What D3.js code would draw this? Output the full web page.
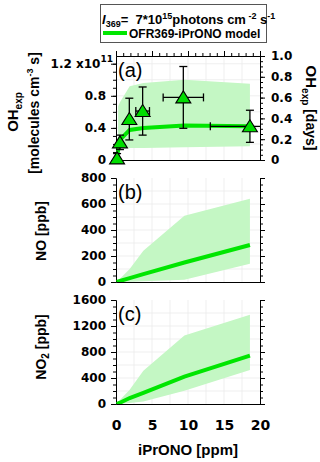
<!DOCTYPE html>
<html>
<head>
<meta charset="utf-8">
<script src="https://cdn.jsdelivr.net/npm/d3@7"></script>
<style>
body { margin: 0; background: #fff; }
svg { display: block; }
.tk text { font-family: "DejaVu Sans"; font-weight: bold; font-size: 12px; fill: #000; }
.tk path, .tk line { stroke: #000; }
.lbl { font-family: "Liberation Sans", Arial; font-weight: bold; fill: #000; }
.grid line { stroke: #ebebeb; stroke-width: 0.8; }
</style>
</head>
<body>
<svg id="chart" width="320" height="462"></svg>
<script>
// iPrONO [ppm] at which the model was run / measurements taken
var modelX = [0.1, 0.55, 1.9, 3.8, 9.5, 18.6];
var ohModel = [0.02, 0.25, 0.375, 0.40, 0.43, 0.42];   // x1e11 molec cm-3 s
var ohBandX = [0.3, 0.55, 1.9, 3.8, 9.5, 18.6];
var ohUpper = [0.67, 0.72, 0.92, 0.96, 1.0, 0.95];
var ohLower = [0.15, 0.15, 0.15, 0.15, 0.16, 0.17];
var noModel = [0, 8, 30, 60, 150, 285];
var noUpper = [0, 25, 100, 240, 510, 640];
var noLower = [0, 0, 2, 5, 17, 140];
var no2Model = [0, 20, 92, 170, 420, 743];
var no2Upper = [0, 60, 220, 512, 1055, 1374];
var no2Lower = [0, 5, 15, 40, 205, 523];

var measX = [0.15, 0.55, 1.85, 3.7, 9.35, 18.6];
var measXErr = [0, 0, 0, 0.95, 2.8, 5.5];
var measOH = [0.02, 0.22, 0.51, 0.61, 0.78, 0.42];
var measOHErr = [0.06, 0.09, 0.26, 0.3, 0.385, 0.2];

var xTicks = [0, 5, 10, 15, 20];
var ohTicks = [0, 0.4, 0.8, 1.2];
var dayTicks = [0, 0.2, 0.4, 0.6, 0.8, 1.0];
var noTicks = [0, 200, 400, 600, 800];
var no2Ticks = [0, 400, 800, 1200, 1600];

var GREEN = "#00e600", BAND = "#c4f7c4";
var left = 116, right = 260, ph = 104;

var svg = d3.select("#chart");
var x = d3.scaleLinear().domain([0, 20]).range([left, right]);

function minorTicks(max, step) {
	return d3.range(0, max + 1e-9, step);
}

function makePanel(id, top, yMax, majors, minorStep, fmt) {
	var y = d3.scaleLinear().domain([0, yMax]).range([top + ph, top]);
	svg.append("clipPath").attr("id", id).append("rect")
		.attr("x", left).attr("y", top).attr("width", right - left).attr("height", ph);

	var grid = svg.append("g").attr("class", "grid");
	grid.selectAll("line.v").data(d3.range(2.5, 20, 2.5)).enter().append("line")
		.attr("x1", x).attr("x2", x).attr("y1", top).attr("y2", top + ph);
	var half = (majors[1] - majors[0]) / 2;
	grid.selectAll("line.h").data(d3.range(half, yMax, half)).enter().append("line")
		.attr("x1", left).attr("x2", right).attr("y1", y).attr("y2", y);

	var ax = svg.append("g").attr("class", "tk");
	ax.append("g").attr("transform", "translate(" + left + ",0)")
		.call(d3.axisLeft(y).tickValues(minorTicks(yMax, minorStep)).tickSize(3).tickSizeOuter(0).tickFormat(""));
	var major = ax.append("g").attr("transform", "translate(" + left + ",0)")
		.call(d3.axisLeft(y).tickValues(majors).tickSize(5).tickSizeOuter(0).tickPadding(5).tickFormat(fmt));
	ax.append("g").attr("transform", "translate(0," + (top + ph) + ")")
		.call(d3.axisBottom(x).tickValues([]).tickSizeOuter(0));

	var body = svg.append("g").attr("clip-path", "url(#" + id + ")");
	return {y: y, body: body, axes: ax, major: major};
}

function rightAxis(ax, scale, majors, minorStep, fmt) {
	ax.append("g").attr("transform", "translate(" + right + ",0)")
		.call(d3.axisRight(scale).tickValues(minorTicks(scale.domain()[1], minorStep)).tickSize(3).tickSizeOuter(0).tickFormat(""));
	ax.append("g").attr("transform", "translate(" + right + ",0)")
		.call(d3.axisRight(scale).tickValues(majors).tickSize(5).tickSizeOuter(0).tickPadding(6).tickFormat(fmt || ""));
}

function drawModel(p, xs, mid, lo, hi) {
	var area = d3.area()
		.x(function(d) { return x(xs[d]); })
		.y0(function(d) { return p.y(lo[d]); })
		.y1(function(d) { return p.y(hi[d]); });
	var line = d3.line()
		.x(function(d) { return x(modelX[d]); })
		.y(function(d) { return p.y(mid[d]); });
	p.body.append("path").attr("d", area(d3.range(xs.length))).attr("fill", BAND);
	p.body.append("path").attr("d", line(d3.range(modelX.length)))
		.attr("fill", "none").attr("stroke", GREEN).attr("stroke-width", 4);
}

function panelLabel(top, t) {
	svg.append("text").attr("x", 118).attr("y", top + 21)
		.attr("font-family", "Liberation Sans, Arial").attr("font-size", 20).text(t);
}

var intFmt = d3.format("d");

// (a) OH exposure
var days = 1.5e6 * 86400 / 1e11;   // 1 day at 1.5e6 OH cm-3, in 1e11 units
var pa = makePanel("ca", 56, days, ohTicks, 0.1, function(d) { return d === 0 ? "0" : d3.format(".1f")(d); });
var yDays = d3.scaleLinear().domain([0, 1]).range([56 + ph, 56]);
pa.major.selectAll(".tick text")
	.filter(function(d) { return d === 1.2; })
	.attr("x", -3)
	.text("1.2 x10")
	.append("tspan").attr("dy", "-0.7em").attr("font-size", 9).text("11");
rightAxis(pa.axes, yDays, dayTicks, 0.05, function(d) { return d === 0 ? "0" : d3.format(".1f")(d); });
pa.axes.append("g").attr("transform", "translate(0,56)")
	.call(d3.axisTop(x).tickValues(d3.range(0, 21, 1)).tickSize(3).tickSizeOuter(0).tickFormat(""));
pa.axes.append("g").attr("transform", "translate(0,56)")
	.call(d3.axisTop(x).tickValues(xTicks).tickSize(5).tickSizeOuter(0).tickFormat(""));
drawModel(pa, ohBandX, ohModel, ohLower, ohUpper);

var errs = svg.append("g").attr("stroke", "#000").attr("stroke-width", 1.3);
measX.forEach(function(mx, i) {
	var cx = x(mx), cy = pa.y(measOH[i]);
	var y0 = pa.y(measOH[i] - measOHErr[i]), y1 = pa.y(measOH[i] + measOHErr[i]);
	errs.append("line").attr("x1", cx).attr("x2", cx).attr("y1", y0).attr("y2", y1);
	errs.append("line").attr("x1", cx - 4).attr("x2", cx + 4).attr("y1", y1).attr("y2", y1);
	if (measOH[i] - measOHErr[i] > 0)
		errs.append("line").attr("x1", cx - 4).attr("x2", cx + 4).attr("y1", y0).attr("y2", y0);
	if (measXErr[i] > 0) {
		var xa = x(Math.max(0, mx - measXErr[i])), xb = x(Math.min(20, mx + measXErr[i]));
		errs.append("line").attr("x1", xa).attr("x2", xb).attr("y1", cy).attr("y2", cy);
		if (mx - measXErr[i] > 0) errs.append("line").attr("x1", xa).attr("x2", xa).attr("y1", cy - 4).attr("y2", cy + 4);
		if (mx + measXErr[i] < 20) errs.append("line").attr("x1", xb).attr("x2", xb).attr("y1", cy - 4).attr("y2", cy + 4);
	}
});
svg.append("g").selectAll("path").data(measX).enter().append("path")
	.attr("d", function(d, i) {
		var cx = x(d), cy = pa.y(measOH[i]);
		return "M" + cx + "," + (cy - 6.5) + "L" + (cx + 7.5) + "," + (cy + 5.5) + "L" + (cx - 7.5) + "," + (cy + 5.5) + "Z";
	})
	.attr("fill", "#00dd00").attr("stroke", "#000").attr("stroke-width", 1.1);
panelLabel(56, "(a)");

// (b) NO
var pb = makePanel("cb", 178, 800, noTicks, 50, intFmt);
rightAxis(pb.axes, pb.y, noTicks, 50);
drawModel(pb, modelX, noModel, noLower, noUpper);
panelLabel(178, "(b)");

// (c) NO2
var pc = makePanel("cc", 300, 1600, no2Ticks, 100, intFmt);
rightAxis(pc.axes, pc.y, no2Ticks, 100);
drawModel(pc, modelX, no2Model, no2Lower, no2Upper);
panelLabel(300, "(c)");
var xa = svg.append("g").attr("class", "tk").attr("transform", "translate(0,404)")
	.call(d3.axisBottom(x).tickValues(xTicks).tickSize(0).tickPadding(16).tickFormat(intFmt));
xa.select(".domain").remove();
xa.selectAll("text").style("font-size", "14px");

// axis titles
svg.append("text").attr("class", "lbl").attr("x", 188).attr("y", 455)
	.attr("text-anchor", "middle").attr("font-size", 15).text("iPrONO [ppm]");

var t1 = svg.append("text").attr("class", "lbl").attr("font-size", 15)
	.attr("text-anchor", "middle").attr("transform", "translate(18,112) rotate(-90)");
t1.append("tspan").text("OH");
t1.append("tspan").attr("font-size", 10).attr("dy", 4).text("exp");

var t2 = svg.append("text").attr("class", "lbl").attr("font-size", 14)
	.attr("text-anchor", "middle").attr("transform", "translate(39,113) rotate(-90)");
t2.append("tspan").text("[molecules cm");
t2.append("tspan").attr("font-size", 9).attr("dy", -6).text("-3");
t2.append("tspan").attr("dy", 6).text(" s]");

var t3 = svg.append("text").attr("class", "lbl").attr("font-size", 14)
	.attr("text-anchor", "middle").attr("transform", "translate(306,108) rotate(90)");
t3.append("tspan").attr("font-size", 15).text("OH");
t3.append("tspan").attr("font-size", 10).attr("dy", 4).text("exp");
t3.append("tspan").attr("dy", -4).text(" [days]");

svg.append("text").attr("class", "lbl").attr("font-size", 14)
	.attr("text-anchor", "middle").attr("transform", "translate(46,231) rotate(-90)")
	.text("NO [ppb]");
var t4 = svg.append("text").attr("class", "lbl").attr("font-size", 14)
	.attr("text-anchor", "middle").attr("transform", "translate(46,347) rotate(-90)");
t4.append("tspan").text("NO");
t4.append("tspan").attr("font-size", 10).attr("dy", 3).text("2");
t4.append("tspan").attr("dy", -3).text(" [ppb]");

// legend
var lg = svg.append("g");
lg.append("rect").attr("x", 100.5).attr("y", 4.5).attr("width", 166).attr("height", 38)
	.attr("fill", "#fff").attr("stroke", "#555");
var l1 = lg.append("text").attr("class", "lbl").attr("x", 102).attr("y", 24)
	.attr("font-size", 13).style("white-space", "pre");
l1.append("tspan").attr("font-style", "italic").text("I");
l1.append("tspan").attr("font-size", 9).attr("dy", 3).text("369");
l1.append("tspan").attr("dy", -3).text("=  7*10");
l1.append("tspan").attr("font-size", 9).attr("dy", -5).text("15");
l1.append("tspan").attr("dy", 5).text("photons cm");
l1.append("tspan").attr("font-size", 9).attr("dy", -5).text(" -2");
l1.append("tspan").attr("dy", 5).text(" s");
l1.append("tspan").attr("font-size", 9).attr("dy", -5).text("-1");
lg.append("line").attr("x1", 103).attr("x2", 127).attr("y1", 33).attr("y2", 33)
	.attr("stroke", GREEN).attr("stroke-width", 4);
lg.append("text").attr("class", "lbl").attr("x", 129).attr("y", 37.5).attr("font-size", 12)
	.text("OFR369-iPrONO model");
</script>
</body>
</html>
